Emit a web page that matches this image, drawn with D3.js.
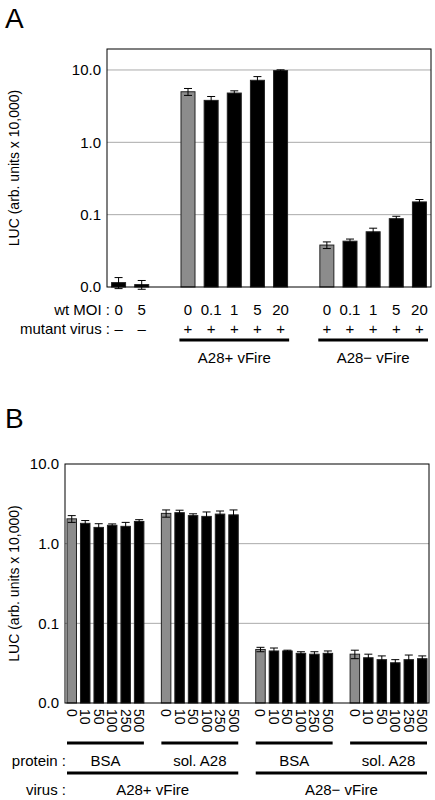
<!DOCTYPE html>
<html><head><meta charset="utf-8">
<script src="https://cdn.jsdelivr.net/npm/d3@7"></script>
<style>body{margin:0;background:#fff}text{font-family:Arial,"Liberation Sans",sans-serif}</style>
</head><body>
<script>
// panel A data (slot index within 14 slots)
var aSlots = [0, 1, 3, 4, 5, 6, 7, 9, 10, 11, 12, 13];
var aValues = [0.0115, 0.0108, 5.0, 3.8, 4.8, 7.2, 9.8, 0.038, 0.043, 0.058, 0.088, 0.15];
var aErrors = [0.002, 0.0015, 0.55, 0.5, 0.35, 0.9, 0.25, 0.004, 0.003, 0.007, 0.007, 0.012];
var aGray = [false, false, true, false, false, false, false, true, false, false, false, false];
var aMOI = ["0", "5", "0", "0.1", "1", "5", "20", "0", "0.1", "1", "5", "20"];
var aMutant = ["\u2013", "\u2013", "+", "+", "+", "+", "+", "+", "+", "+", "+", "+"];
var aGroups = [{name: "A28+ vFire", from: 3, to: 7}, {name: "A28\u2212 vFire", from: 9, to: 13}];

// panel B data (27 slots, 6 bars + gap)
var bValues = [2.05, 1.8, 1.6, 1.7, 1.65, 1.9, 2.4, 2.45, 2.25, 2.2, 2.35, 2.3,
  0.047, 0.045, 0.045, 0.042, 0.041, 0.042, 0.041, 0.037, 0.035, 0.032, 0.035, 0.036];
var bErrors = [0.2, 0.15, 0.18, 0.07, 0.2, 0.1, 0.25, 0.18, 0.12, 0.3, 0.22, 0.35,
  0.003, 0.004, 0.001, 0.002, 0.003, 0.003, 0.005, 0.004, 0.004, 0.003, 0.005, 0.003];
var bDose = ["0", "10", "50", "100", "250", "500"];
var bProtein = ["BSA", "sol. A28", "BSA", "sol. A28"];
var bVirus = ["A28+ vFire", "A28\u2212 vFire"];
var tickVals = [0.01, 0.1, 1, 10];
var tickLabels = ["0.0", "0.1", "1.0", "10.0"];

var svg = d3.select("body").append("svg").attr("width", 435).attr("height", 800);

function panel(left, right, top, bottom, yMax) {
  var y = d3.scaleLog().domain([0.01, yMax]).range([bottom, top]);
  var g = svg.append("g");
  tickVals.slice(1).forEach(function(t) {
    if (t < yMax) g.append("line").attr("x1", left).attr("x2", right).attr("y1", y(t)).attr("y2", y(t)).attr("stroke", "#aaa");
  });
  var ax = g.append("g").attr("transform", "translate(" + left + ",0)")
    .call(d3.axisLeft(y).tickValues(tickVals).tickFormat(function(d, i) { return tickLabels[i]; }).tickSize(0).tickPadding(6));
  ax.select(".domain").remove();
  ax.selectAll("text").attr("font-size", 15).attr("fill", "#000");
  g.append("text").attr("transform", "translate(19," + ((top + bottom) / 2) + ") rotate(-90)")
    .attr("text-anchor", "middle").attr("font-size", 14).text("LUC (arb. units x 10,000)");
  return {g: g, y: y};
}

function bars(p, x, bw, slots, vals, errs, gray) {
  var y = p.y, bottom = y.range()[0];
  vals.forEach(function(v, i) {
    var cx = x(slots[i]) + x.bandwidth() / 2;
    p.g.append("rect").attr("x", cx - bw / 2).attr("y", y(v)).attr("width", bw).attr("height", bottom - y(v))
      .attr("fill", gray[i] ? "#8c8c8c" : "#000").attr("stroke", "#222").attr("stroke-width", 1);
    var hi = y(v + errs[i]), lo = y(v - errs[i]);
    p.g.append("path").attr("d", "M" + (cx - 4) + "," + hi + "H" + (cx + 4) + "M" + cx + "," + hi + "V" + lo + "M" + (cx - 4) + "," + lo + "H" + (cx + 4))
      .attr("stroke", gray[i] ? "#000" : "#000").attr("stroke-width", 1).attr("fill", "none");
  });
}

// ---------- panel A ----------
svg.append("text").attr("x", 5).attr("y", 28).attr("font-size", 28).text("A");
var aL = 107, aR = 431, aT = 49, aB = 287;
var pA = panel(aL, aR, aT, aB, 19.5);
var xA = d3.scaleBand().domain(d3.range(14)).range([aL, aR]);
bars(pA, xA, 14, aSlots, aValues, aErrors, aGray);
pA.g.append("rect").attr("x", aL).attr("y", aT).attr("width", aR - aL).attr("height", aB - aT).attr("fill", "none").attr("stroke", "#000");
svg.append("text").attr("x", 110).attr("y", 315).attr("text-anchor", "end").attr("font-size", 15).text("wt MOI :");
svg.append("text").attr("x", 110).attr("y", 334).attr("text-anchor", "end").attr("font-size", 15).text("mutant virus :");
aSlots.forEach(function(s, i) {
  var cx = xA(s) + xA.bandwidth() / 2;
  svg.append("text").attr("x", cx).attr("y", 315).attr("text-anchor", "middle").attr("font-size", 15).text(aMOI[i]);
  svg.append("text").attr("x", cx).attr("y", 334).attr("text-anchor", "middle").attr("font-size", 15).text(aMutant[i]);
});
aGroups.forEach(function(gr) {
  var x1 = xA(gr.from) + 3, x2 = xA(gr.to) + xA.bandwidth() - 3;
  svg.append("line").attr("x1", x1).attr("x2", x2).attr("y1", 340).attr("y2", 340).attr("stroke", "#000").attr("stroke-width", 3);
  svg.append("text").attr("x", (x1 + x2) / 2).attr("y", 363).attr("text-anchor", "middle").attr("font-size", 15).text(gr.name);
});

// ---------- panel B ----------
svg.append("text").attr("x", 5).attr("y", 428).attr("font-size", 28).text("B");
var bL = 65, bR = 429, bT = 464, bB = 703;
var pB = panel(bL, bR, bT, bB, 10);
var xB = d3.scaleBand().domain(d3.range(27)).range([bL, bR]);
var bSlots = bValues.map(function(v, i) { return Math.floor(i / 6) * 7 + (i % 6); });
var bGray = bValues.map(function(v, i) { return i % 6 === 0; });
bars(pB, xB, 9.5, bSlots, bValues, bErrors, bGray);
pB.g.append("rect").attr("x", bL).attr("y", bT).attr("width", bR - bL).attr("height", bB - bT).attr("fill", "none").attr("stroke", "#000");
bSlots.forEach(function(s, i) {
  var cx = xB(s) + xB.bandwidth() / 2;
  svg.append("text").attr("transform", "translate(" + (cx - 5) + ",709) rotate(90)")
    .attr("font-size", 14).text(bDose[i % 6]);
});
bProtein.forEach(function(name, k) {
  var x1 = xB(k * 7) + 2, x2 = xB(k * 7 + 5) + xB.bandwidth() - 2;
  svg.append("line").attr("x1", x1).attr("x2", x2).attr("y1", 743).attr("y2", 743).attr("stroke", "#000").attr("stroke-width", 3);
  svg.append("text").attr("x", (x1 + x2) / 2).attr("y", 766).attr("text-anchor", "middle").attr("font-size", 15).text(name);
});
bVirus.forEach(function(name, k) {
  var x1 = xB(k * 14) + 2, x2 = xB(k * 14 + 12) + xB.bandwidth() - 2;
  svg.append("line").attr("x1", x1).attr("x2", x2).attr("y1", 773).attr("y2", 773).attr("stroke", "#000").attr("stroke-width", 3);
  svg.append("text").attr("x", (x1 + x2) / 2).attr("y", 795).attr("text-anchor", "middle").attr("font-size", 15).text(name);
});
svg.append("text").attr("x", 66).attr("y", 766).attr("text-anchor", "end").attr("font-size", 15).text("protein :");
svg.append("text").attr("x", 66).attr("y", 795).attr("text-anchor", "end").attr("font-size", 15).text("virus :");
</script>
</body></html>
